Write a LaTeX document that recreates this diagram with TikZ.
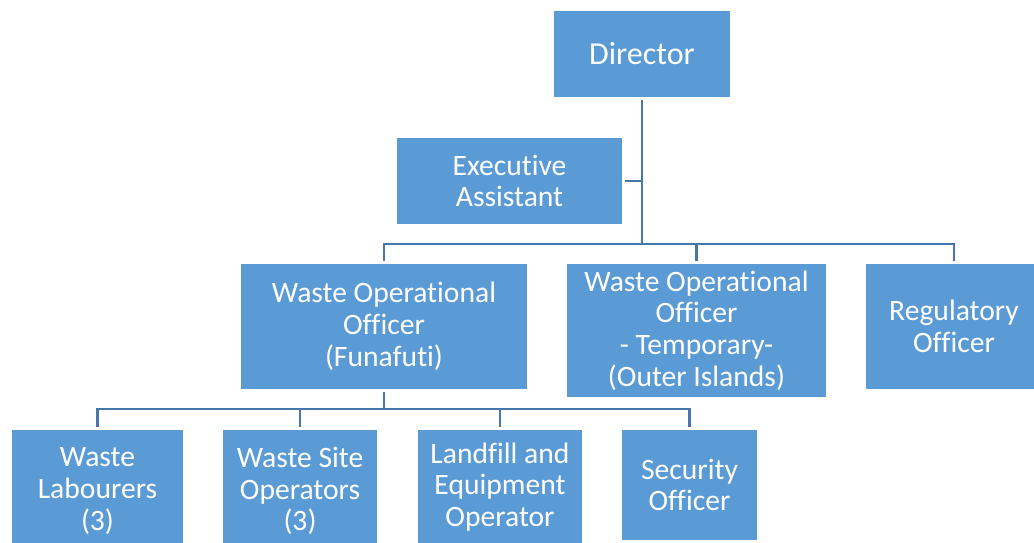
\documentclass[tikz,border=0pt]{standalone}
\usepackage{fontspec}
\setmainfont{Carlito}[Ligatures={NoCommon,NoContextual}]
\definecolor{boxblue}{HTML}{5B9BD5}
\definecolor{lineblue}{HTML}{4677AC}
\begin{document}
\begin{tikzpicture}[x=1pt,y=-1pt,
  box/.style={rectangle, fill=boxblue, text=white, align=center, inner sep=0pt,
    font=\fontsize{29.6}{31.8}\selectfont},
  conn/.style={draw=lineblue, line width=2.8pt}]
\useasboundingbox (0,0) rectangle (1034,542);
\node[box, minimum width=176pt, minimum height=86pt, font=\fontsize{32}{34}\selectfont] (dir) at (642,54) {Director};
\node[box, minimum width=225pt, minimum height=86pt] (ea) at (509.5,181) {Executive\\Assistant};
\node[box, minimum width=286pt, minimum height=125pt] (wf) at (384,326.5) {Waste Operational\\Officer\\(Funafuti)};
\node[box, minimum width=259pt, minimum height=133pt] (wt) at (696.5,330.5) {Waste Operational\\Officer\\- Temporary-\\(Outer Islands)};
\node[box, minimum width=176pt, minimum height=125pt] (reg) at (954,326.5) {Regulatory\\Officer};
\node[box, minimum width=171pt, minimum height=122pt] (wl) at (97.5,491) {Waste\\Labourers\\(3)};
\node[box, minimum width=154pt, minimum height=122pt] (so) at (300,491) {Waste Site\\Operators\\(3)};
\node[box, minimum width=164pt, minimum height=114pt] (lf) at (500,487) {Landfill and\\Equipment\\Operator};
\node[box, minimum width=135pt, minimum height=110pt] (sec) at (689.5,485) {Security\\Officer};
\coordinate (bus1) at (642,244);
\coordinate (bus2) at (384,409);
\draw[conn] ([yshift=-3pt]dir.south) -- (bus1);
\draw[conn] ([xshift=3pt]ea.east) -- (ea.east -| bus1);
\draw[conn] ([yshift=3pt]wf.north) |- (bus1) -| ([yshift=3pt]reg.north);
\draw[conn] ([yshift=3pt]wt.north) -- (wt.north |- bus1);
\draw[conn] ([yshift=-3pt]wf.south) -- (bus2);
\draw[conn] ([yshift=3pt]wl.north) |- (bus2) -| ([yshift=3pt]sec.north);
\draw[conn] ([yshift=3pt]so.north) -- (so.north |- bus2);
\draw[conn] ([yshift=3pt]lf.north) -- (lf.north |- bus2);
\end{tikzpicture}
\end{document}
